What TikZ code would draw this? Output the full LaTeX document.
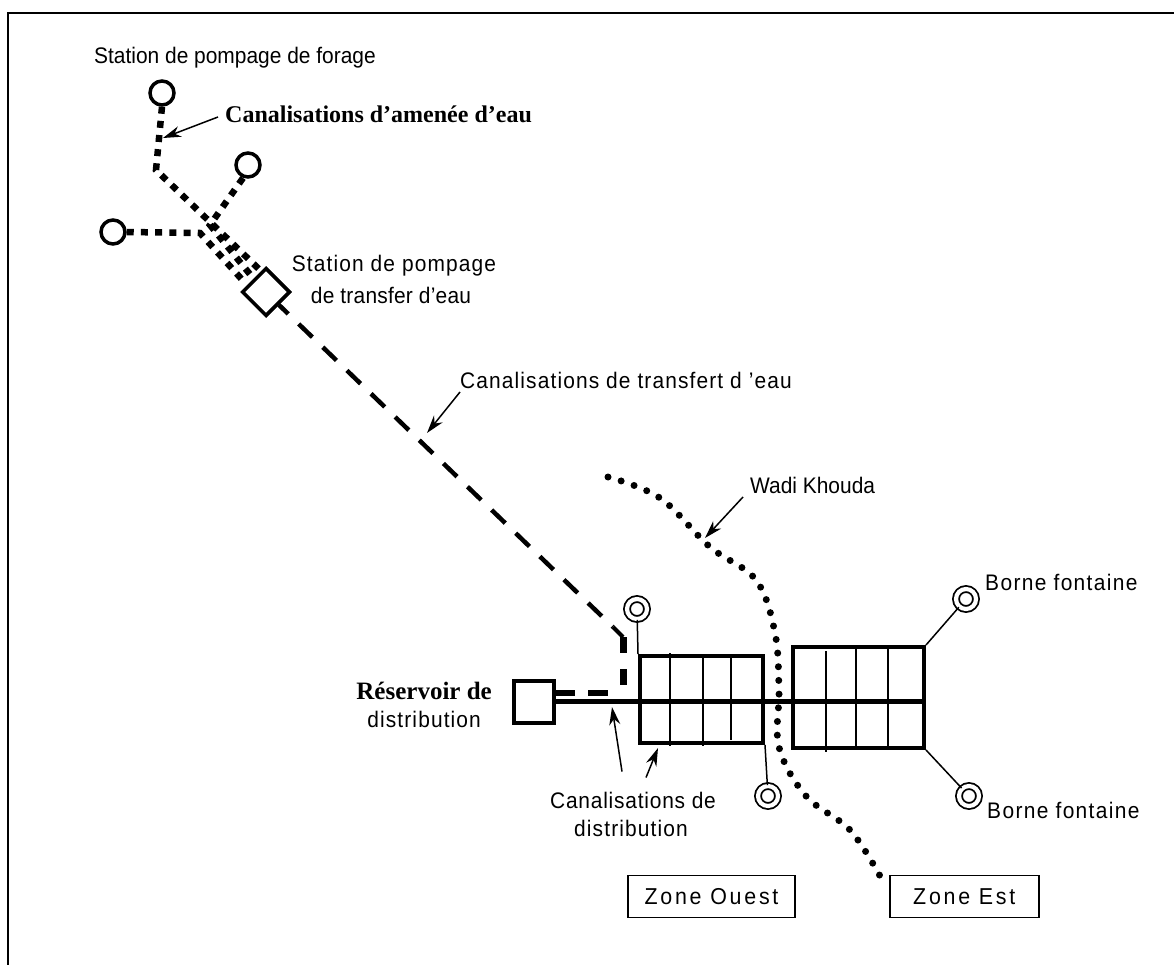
\documentclass[tikz,border=0pt]{standalone}
\usepackage{fontspec}
\setmainfont{Liberation Sans}[FakeStretch=0.93]
\newfontfamily\serifbold{Liberation Serif}[BoldFont=Liberation Serif Bold]
\usetikzlibrary{arrows.meta,positioning,shapes.geometric}

\begin{document}
\begin{tikzpicture}[
    x=1pt, y=-1pt,
    font=\fontsize{22.5}{28.5}\selectfont,
    txt/.style={inner sep=0pt, align=center, font=\fontsize{22.5}{28.5}\selectfont\addfontfeature{LetterSpace=#1}},
    txt/.default=0,
    boldtxt/.style={inner sep=0pt, font=\fontsize{24}{28}\selectfont\serifbold\bfseries},
    forage/.style={circle, draw=black, line width=3.5pt, fill=white, inner sep=0pt, minimum size=24pt},
    transfer/.style={diamond, draw=black, line width=3.5pt, fill=white, aspect=1, inner sep=0pt, minimum size=48pt},
    reservoir/.style={rectangle, draw=black, line width=4pt, fill=white, minimum width=40pt, minimum height=42pt},
    block/.style={rectangle, draw=black, line width=4pt, inner sep=0pt},
    fontaine/.style={circle, draw=black, line width=1.8pt, double=white, double distance=4.2pt, fill=white, inner sep=0pt, minimum size=20pt},
    zone/.style={rectangle, draw=black, line width=1.8pt, inner sep=0pt, minimum height=42pt, font=\fontsize{23}{26}\selectfont\addfontfeature{LetterSpace=12}},
    pipe/.style={line width=6.5pt, dash pattern=on 7pt off 7.2pt},
    transferpipe/.style={line width=4.5pt, dash pattern=on 19pt off 14.5pt, dash phase=6pt},
    feedpipe/.style={line width=5.5pt, dash pattern=on 20pt off 13pt},
    mainpipe/.style={line width=5.5pt},
    branch/.style={line width=1.5pt},
    wadi/.style={line width=7pt, line cap=round, dash pattern=on 0pt off 13.7pt},
    pointer/.style={-{Stealth[length=18pt,width=11pt]}, line width=1.5pt}
]
    \useasboundingbox (0,0) rectangle (1174,965);
    \draw[line width=2.4pt] (1174,13) -- (8,13) -- (8,965);

    % stations de forage
    \node[forage] (forageA) at (162,93) {};
    \node[forage] (forageB) at (248,165) {};
    \node[forage] (forageC) at (113,232) {};
    \node[transfer] (station) at (266,292) {};

    \coordinate (bendA) at (156,170);
    \coordinate (bendB) at (210,225);
    \coordinate (bendC) at (200,233);
    \coordinate (endA) at (262,272);
    \coordinate (endB) at (253,278);
    \coordinate (endC) at (246,284);

    \draw[pipe] (forageA.south) -- (bendA) -- (endA);
    \draw[pipe] (forageB) ++(-5,13) -- (bendB) -- (endB);
    \draw[pipe] (forageC.east) -- (bendC) -- (endC);
    \node[transfer] at (station) {};

    % transfert et reservoir
    \node[reservoir] (tank) at (533.5,701.5) {};
    \coordinate (bendT) at (613,627);
    \coordinate (bendV) at (623,637);
    \coordinate (endV) at (623,688);
    \coordinate (startH) at (555,693);
    \coordinate (endH) at (612,693);

    \draw[transferpipe] (station.south east) -- (bendT);
    \draw[line width=4pt] (bendT) -- (bendV);
    \draw[feedpipe, line width=7pt, dash pattern=on 16pt off 16pt] (bendV) -- (endV);
    \draw[feedpipe] (startH) -- (endH);

    % zones de distribution
    \node[block, minimum width=123pt, minimum height=87pt] (blockO) at (701.5,699.5) {};
    \node[block, minimum width=131pt, minimum height=101pt] (blockE) at (858.5,697.5) {};
    \draw[mainpipe] (tank.east) -- (tank.east -| blockE.east);
    \foreach \x/\ya/\yb in {670/653/746, 703/656/746, 731/656/740, 826/651/752, 856/647/748, 888/647/748}
        \draw[branch] (\x,\ya) -- (\x,\yb);

    % bornes fontaines
    \node[fontaine] (borneA) at (637,609) {};
    \node[fontaine] (borneB) at (768,796) {};
    \node[fontaine] (borneC) at (966,599) {};
    \node[fontaine] (borneD) at (969,796) {};
    \draw[branch] (borneA) -- (blockO.north west);
    \draw[branch] (borneB) -- (blockO.south east);
    \draw[branch] (borneC) -- (blockE.north east);
    \draw[branch] (borneD) -- (blockE.south east);

    % wadi
    \draw[wadi] plot[smooth, tension=0.6] coordinates {(608,477) (660,498) (710,547) (756,580) (775,633) (779,690) (779,747) (806,796) (850,830) (880,876)};

    % textes
    \node[txt, anchor=west] (forageText) at (94,58) {Station de pompage de forage};
    \node[boldtxt, anchor=west] (amenee) at (225,114) {Canalisations d’amenée d’eau};
    \node[txt=5] (stationText) at (394,266) {Station de pompage};
    \node[txt=1] (stationTextB) at (391,295) {de transfer d'eau};
    \node[txt=5, anchor=west] (transfert) at (460,380) {Canalisations de transfert d ’eau};
    \node[txt, anchor=west] (wadiText) at (750,485) {Wadi Khouda};
    \node[txt=6, anchor=west] (borneCText) at (985,582) {Borne fontaine};
    \node[txt=6, anchor=west] (borneDText) at (987,810) {Borne fontaine};
    \node[txt=3.5] (distribText) at (633,800) {Canalisations de};
    \node[txt=5] (distribTextB) at (631,828) {distribution};
    \node[boldtxt, font=\fontsize{25}{28}\selectfont\serifbold\bfseries, anchor=east] (tankText) at (492,691) {Réservoir de};
    \node[txt=5, below=11pt of tankText] (tankTextB) {distribution};
    \node[zone, minimum width=167pt] (zoneO) at (711.5,896.5) {Zone Ouest};
    \node[zone, minimum width=149pt, right=93pt of zoneO] (zoneE) {Zone Est};

    % fleches
    \coordinate (tipA) at (163,138);
    \coordinate (tipT) at (427,433);
    \coordinate (tipW) at (705,538);
    \coordinate (tipD) at (612,707);
    \coordinate (tipB) at (658,748);
    \draw[pointer] (amenee.west) ++(-7,3) -- (tipA);
    \draw[pointer] (transfert.west) ++(0,12) -- (tipT);
    \draw[pointer] (wadiText.west) ++(-7,12) -- (tipW);
    \draw[pointer] (distribText.north) ++(-11,-20) -- (tipD);
    \draw[pointer] (distribText.north) ++(13,-14) -- (tipB);
\end{tikzpicture}
\end{document}
